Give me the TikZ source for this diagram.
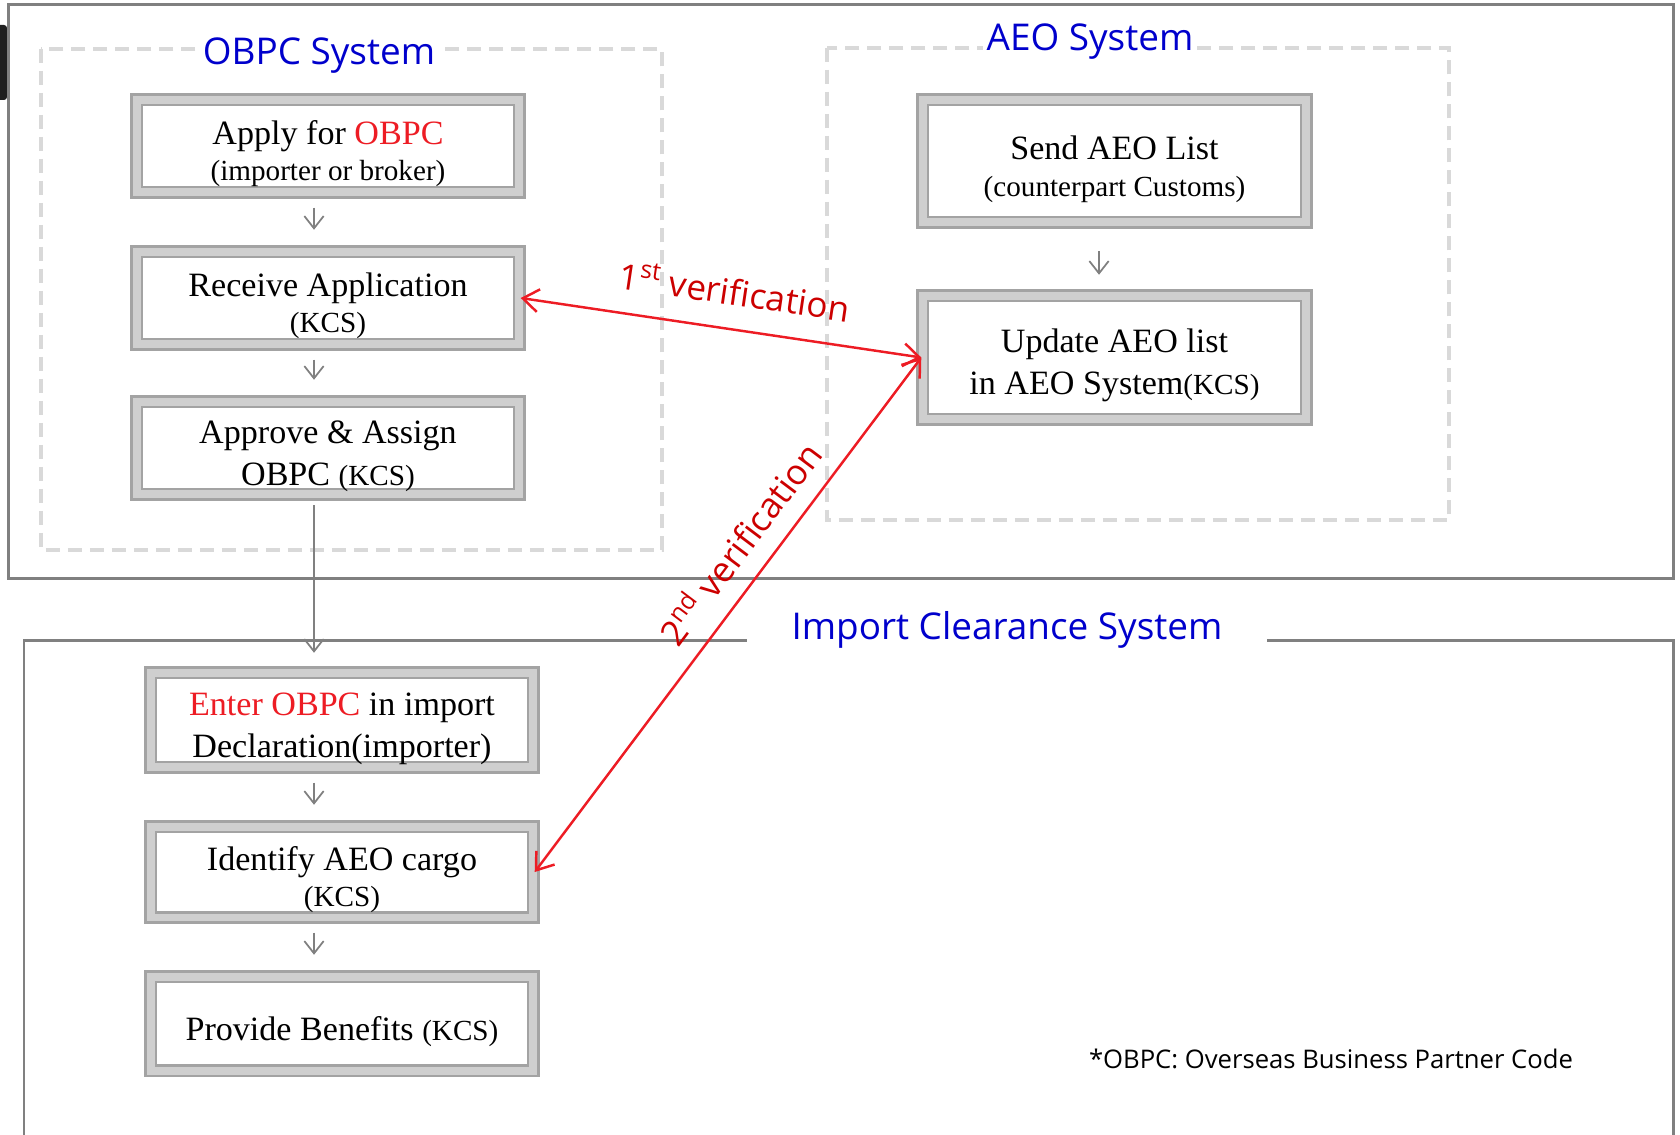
\documentclass[tikz,border=0pt]{standalone}
\usepackage{fontspec}
\setmainfont{Liberation Serif}
\newfontfamily\sysfont{Open Sans}
\usetikzlibrary{arrows.meta}

\definecolor{obpcred}{RGB}{237,28,36}
\definecolor{sysblue}{RGB}{0,0,204}
\definecolor{verred}{RGB}{204,0,0}
\definecolor{dashgray}{RGB}{217,217,217}

\newcommand{\kcs}[1]{{\fontsize{16.6}{21}\selectfont #1}}
\newcommand{\topstrut}{\rule{0pt}{22.5pt}}

\tikzset{
  stepbox/.style={draw=gray!72, line width=0.05cm, double=gray!38, double distance=0.16cm,
    fill=white, minimum width=7.66cm, minimum height=1.88cm, align=center, inner sep=0pt,
    font=\fontsize{19.4}{24}\selectfont},
  dashbox/.style={draw=dashgray, line width=0.08cm, dash pattern=on 0.28cm off 0.16cm},
  systitle/.style={font=\sysfont\fontsize{21}{25}\selectfont, text=sysblue, fill=white, inner sep=2pt},
  flowarrow/.style={draw=gray, line width=1pt, -{Straight Barb[length=7pt,width=11pt]},
    shorten <=0.28cm, shorten >=0.41cm},
  verarrow/.style={draw=obpcred, line width=1.4pt,
    {Straight Barb[length=9pt,width=13pt]}-{Straight Barb[length=9pt,width=13pt]}},
  verlabel/.style={sloped, font=\sysfont\fontsize{20}{24}\selectfont, text=verred, inner sep=0pt}
}

\begin{document}
\begin{tikzpicture}[x=0.02cm, y=-0.02cm]
\useasboundingbox (0,0) rectangle (1680,1135);

% frames
\fill[black!88, rounded corners=0.06cm] (-6,25) rectangle (7,100);
\draw[gray, line width=0.06cm] (8.5,4.5) rectangle (1673,578.5);
\draw[gray, line width=0.06cm] (24,1135) -- (24,640) -- (1673,640) -- (1673,1135);
\draw[dashbox] (41,49) rectangle (662,550);
\draw[dashbox] (827,48) rectangle (1449,520);

\node[systitle] (obpctitle) at (319,56) {OBPC System};
\node[systitle] (aeotitle) at (1090,42) {AEO System};
\node[systitle, inner xsep=0.9cm, inner ysep=0.15cm] (imptitle) at (1007,630) {Import Clearance System};

% OBPC system
\node[stepbox, minimum height=1.86cm] (apply) at (328,146) {\topstrut Apply for \textcolor{obpcred}{OBPC}\\[-3.5pt] \kcs{(importer or broker)}};
\node[stepbox, minimum height=1.86cm] (receive) at (328,298) {\topstrut Receive Application\\[-3.5pt] \kcs{(KCS)}};
\node[stepbox, minimum height=1.86cm] (approve) at (328,448) {\topstrut Approve \& Assign\\ OBPC \kcs{(KCS)}};

% AEO system
\node[stepbox, minimum width=7.68cm, minimum height=2.46cm] (send) at (1114.5,161) {\topstrut Send AEO List\\[-3pt] \kcs{(counterpart Customs)}};
\node[stepbox, minimum width=7.68cm, minimum height=2.48cm] (update) at (1114.5,357.5) {\topstrut Update AEO list\\ in AEO System\kcs{(KCS)}};

% import clearance system
\node[stepbox, minimum height=1.90cm] (enter) at (342,720) {\topstrut\textcolor{obpcred}{Enter OBPC} in import\\ Declaration(importer)};
\node[stepbox, minimum height=1.82cm] (identify) at (342,872) {\topstrut Identify AEO cargo\\[-3.5pt] \kcs{(KCS)}};
\node[stepbox, minimum height=1.88cm] (provide) at (342,1023.5) {\topstrut Provide Benefits \kcs{(KCS)}};

\node[font=\sysfont\fontsize{14.6}{18}\selectfont] (footnote) at (1331,1059) {*OBPC: Overseas Business Partner Code};

% flow
\coordinate (spine) at (314,0);
\coordinate (aeospine) at (1099,0);
\draw[flowarrow] (apply.south -| spine) -- (receive.north -| spine);
\draw[flowarrow] (receive.south -| spine) -- (approve.north -| spine);
\draw[flowarrow, shorten <=0.19cm, shorten >=0.37cm] (approve.south -| spine) -- (enter.north -| spine);
\draw[flowarrow] (enter.south -| spine) -- (identify.north -| spine);
\draw[flowarrow] (identify.south -| spine) -- (provide.north -| spine);
\draw[flowarrow, shorten <=0.55cm, shorten >=0.39cm] (send.south -| aeospine) -- (update.north -| aeospine);

% verification
\draw[verarrow] (receive.east) -- node[verlabel, pos=0.52, above=0.45cm] (firstlabel) {1\textsuperscript{st} verification} (update.west);
\draw[verarrow] (identify.east) -- node[verlabel, pos=0.6, above=0.35cm] (secondlabel) {2\textsuperscript{nd} verification} (update.west);
\end{tikzpicture}
\end{document}
